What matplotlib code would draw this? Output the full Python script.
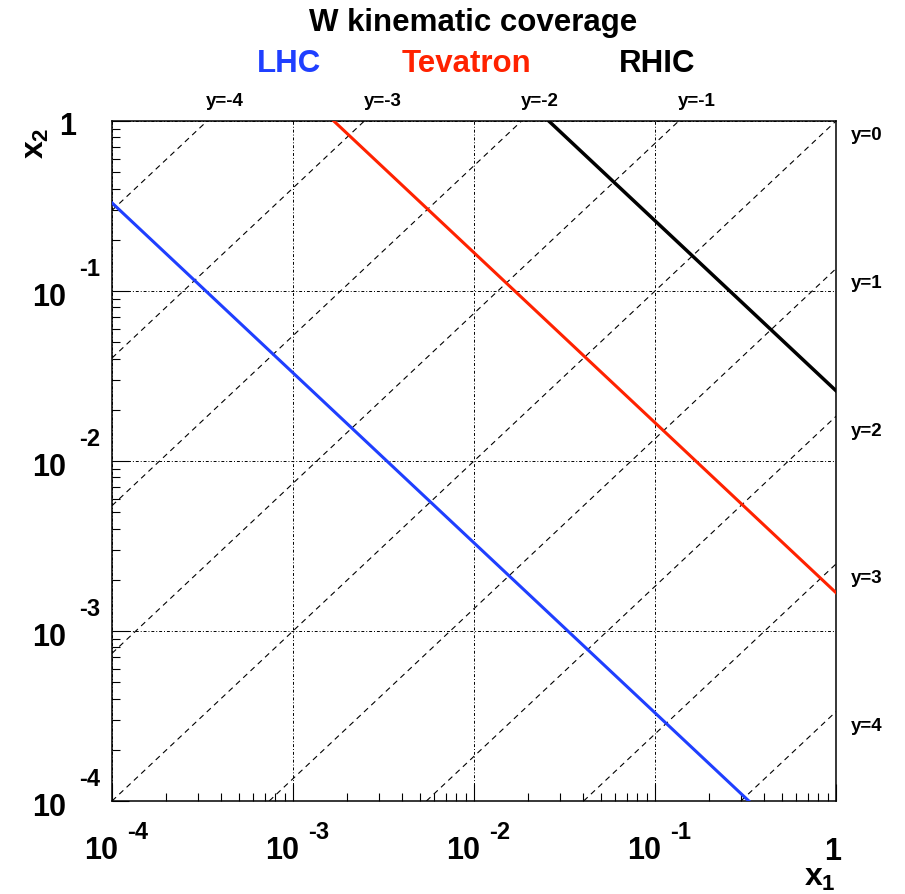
import numpy as np
import matplotlib
matplotlib.use("Agg")
import matplotlib.pyplot as plt
import matplotlib.transforms as mtransforms
from matplotlib.ticker import LogLocator, NullFormatter

plt.rcParams['font.family'] = ['Liberation Sans', 'DejaVu Sans']
plt.rcParams['font.weight'] = 'bold'
plt.rcParams['mathtext.fontset'] = 'custom'
plt.rcParams['mathtext.rm'] = 'Liberation Sans:bold'
plt.rcParams['mathtext.it'] = 'Liberation Sans:bold'
plt.rcParams['mathtext.bf'] = 'Liberation Sans:bold'

# W production lines x1*x2 = (M_W/sqrt(s))^2, endpoints on the frame
colliders = ['LHC', 'Tevatron', 'RHIC']
colors = ['#1f3fff', '#ff2200', 'black']
lhc_x1 = [1e-4, 0.33]
lhc_x2 = [0.33, 1e-4]
tev_x1 = [1.68e-3, 1.0]
tev_x2 = [1.0, 1.68e-3]
rhic_x1 = [0.0259, 1.0]
rhic_x2 = [1.0, 0.0259]

# rapidity guide lines
rapidities = [-4, -3, -2, -1, 0, 1, 2, 3, 4]

decades = [1e-4, 1e-3, 1e-2, 1e-1, 1.0]
exponents = ['-4', '-3', '-2', '-1', '']

W, H = 905, 895
fig = plt.figure(figsize=(W / 100, H / 100), dpi=100)
ax = fig.add_axes([112 / W, (H - 802) / H, (836 - 112) / W, (802 - 122) / H])
ax.set_xscale('log')
ax.set_yscale('log')
ax.set_xlim(1e-4, 1)
ax.set_ylim(1e-4, 1)

xmin, xmax = 1e-4, 1.0
for y in rapidities:
    r = np.exp(2 * y)
    if y < 0:
        xs = [xmin, r]
        ys = [xmin / r, 1.0]
    else:
        xs = [xmin * r, xmax]
        ys = [xmin, xmax / r]
    ax.plot(xs, ys, color='black', lw=0.8, ls=(0, (5, 4)), zorder=2)
    if y < 0:
        ax.annotate(f'y={y}', xy=(r, 1.0), xytext=(18, 20),
                    textcoords='offset pixels', ha='center', va='center',
                    fontsize=13.5, fontweight='bold', annotation_clip=False)
    else:
        ax.annotate(f'y={y}', xy=(xmax, xmax / r), xytext=(31, -14),
                    textcoords='offset pixels', ha='center', va='center',
                    fontsize=13.5, fontweight='bold', annotation_clip=False)

ax.plot(lhc_x1, lhc_x2, color=colors[0], lw=2.2, zorder=3)
ax.plot(tev_x1, tev_x2, color=colors[1], lw=2.2, zorder=3)
ax.plot(rhic_x1, rhic_x2, color=colors[2], lw=2.5, zorder=3)

ax.grid(which='major', color='black', lw=0.7, ls=(0, (3, 2, 1, 2)))
ax.xaxis.set_major_locator(LogLocator(base=10, numticks=10))
ax.yaxis.set_major_locator(LogLocator(base=10, numticks=10))
ax.xaxis.set_minor_locator(LogLocator(base=10, subs=np.arange(2, 10), numticks=10))
ax.yaxis.set_minor_locator(LogLocator(base=10, subs=np.arange(2, 10), numticks=10))
ax.xaxis.set_major_formatter(NullFormatter())
ax.yaxis.set_major_formatter(NullFormatter())
ax.xaxis.set_minor_formatter(NullFormatter())
ax.yaxis.set_minor_formatter(NullFormatter())
ax.tick_params(which='major', direction='in', length=12, width=0.8, top=False, right=False)
ax.tick_params(which='minor', direction='in', length=5.8, width=0.8, top=False, right=False)
for s in ax.spines.values():
    s.set_linewidth(1.1)

# tick labels drawn as "10" plus raised exponent
big, small = 22, 17
for d, e in zip(decades, exponents):
    xt = ax.get_xaxis_transform()
    yt = ax.get_yaxis_transform()
    if e == '':
        ax.text(d, 0, '1', fontsize=big, fontweight='bold', ha='center', va='center',
                transform=mtransforms.offset_copy(xt, fig, x=-3, y=-50, units='dots'))
        ax.text(0, d, '1', fontsize=big, fontweight='bold', ha='center', va='center',
                transform=mtransforms.offset_copy(yt, fig, x=-44, y=-5, units='dots'))
        continue
    ax.text(d, 0, '10', fontsize=big, fontweight='bold', ha='center', va='center',
            transform=mtransforms.offset_copy(xt, fig, x=-11, y=-49, units='dots'))
    ax.text(d, 0, e, fontsize=small, fontweight='bold', ha='center', va='center',
            transform=mtransforms.offset_copy(xt, fig, x=26, y=-31, units='dots'))
    ax.text(0, d, '10', fontsize=big, fontweight='bold', ha='right', va='center',
            transform=mtransforms.offset_copy(yt, fig, x=-46, y=-6, units='dots'))
    ax.text(0, d, e, fontsize=small, fontweight='bold', ha='left', va='center',
            transform=mtransforms.offset_copy(yt, fig, x=-33, y=22, units='dots'))

# axis titles
fig.text(820 / W, 1 - 878 / H, r'$x_1$', fontsize=big + 1, ha='center', va='center')
fig.text(36 / W, 1 - 143 / H, r'$x_2$', fontsize=big + 1, ha='center', va='center', rotation=90)

fig.text(473 / W, 1 - 23 / H, 'W kinematic coverage', fontsize=22.5,
         fontweight='bold', ha='center', va='center')
for name, c, xp in zip(colliders, colors, [289, 467, 657]):
    fig.text(xp / W, 1 - 64 / H, name, fontsize=22.5, fontweight='bold',
             color=c, ha='center', va='center')

fig.savefig('out.png', dpi=100)
